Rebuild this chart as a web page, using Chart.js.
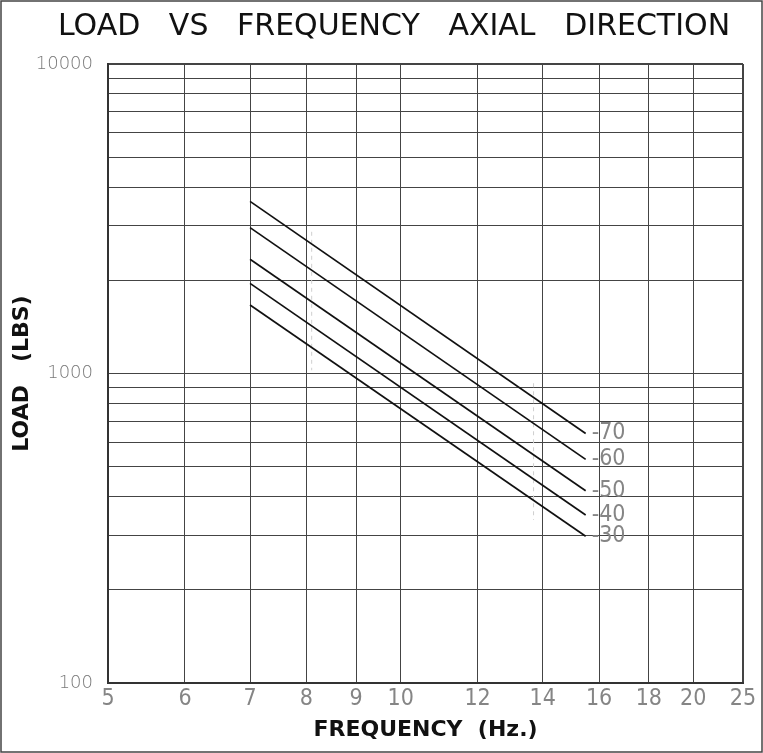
<!DOCTYPE html>
<html>
<head>
<meta charset="utf-8">
<script src="https://cdn.jsdelivr.net/npm/chart.js@4.4.1/dist/chart.umd.min.js"></script>
<style>
  html, body { margin: 0; padding: 0; background: #fff; }
</style>
</head>
<body>
<canvas id="myChart" width="763" height="753"></canvas>
<script>
const ctx = document.getElementById("myChart");

// frequency (Hz) at the two ends of every curve
const freq = [7, 15.5];
// load (lbs) per durometer curve
const seriesNames = ["70", "60", "50", "40", "30"];
const load70 = [3600, 640];
const load60 = [2960, 528];
const load50 = [2340, 418];
const load40 = [1955, 349];
const load30 = [1665, 298];

// faint dashed ghost lines in the scan
const ghost1X = [8.1, 8.1];
const ghost1Y = [2870, 1025];
const ghost2X = [13.7, 13.7];
const ghost2Y = [930, 336];

// x grid / tick labels (the drawing's last line, labelled 25, sits at ~22.5 on its own spacing)
const xTicks = [5, 6, 7, 8, 9, 10, 12, 14, 16, 18, 20, 22.5];
const xTickLabels = ["5", "6", "7", "8", "9", "10", "12", "14", "16", "18", "20", "25"];
const yTicks = [100, 200, 300, 400, 500, 600, 700, 800, 900,
                1000, 2000, 3000, 4000, 5000, 6000, 7000, 8000, 9000, 10000];
const yTickLabels = [100, 1000, 10000];

const loads = [load70, load60, load50, load40, load30];

function pts(xs, ys) {
  return xs.map((x, i) => ({ x: x, y: ys[i] }));
}

let datasets = loads.map((arr, i) => ({
  label: seriesNames[i],
  data: pts(freq, arr),
  borderColor: "#111",
  borderWidth: 1.7,
  pointRadius: 0,
  fill: false
}));
datasets.push({ label: "ghost", data: pts(ghost1X, ghost1Y), borderColor: "#cfcfcf", borderWidth: 1, borderDash: [4, 4], pointRadius: 0 });
datasets.push({ label: "ghost", data: pts(ghost2X, ghost2Y), borderColor: "#cfcfcf", borderWidth: 1, borderDash: [4, 4], pointRadius: 0 });

const decorations = {
  id: "decorations",
  afterDatasetsDraw(chart) {
    const c = chart.ctx;
    c.save();
    c.fillStyle = "#858585";
    c.font = '23px "Liberation Sans Narrow", "DejaVu Sans Condensed", sans-serif';
    c.textBaseline = "middle";
    c.textAlign = "left";
    chart.data.datasets.forEach((ds, i) => {
      if (!seriesNames.includes(ds.label)) return;
      const meta = chart.getDatasetMeta(i);
      const p = meta.data[meta.data.length - 1];
      c.fillText("-" + ds.label, p.x + 6, p.y);
    });
    c.restore();
  },
  afterDraw(chart) {
    const c = chart.ctx;
    c.save();
    c.fillStyle = "#111";
    c.font = '30px "DejaVu Sans", sans-serif';
    c.textAlign = "center";
    c.textBaseline = "alphabetic";
    c.fillText("LOAD   VS   FREQUENCY   AXIAL   DIRECTION", 394, 35);
    c.strokeStyle = "#444";
    c.lineWidth = 1.5;
    c.strokeRect(1, 1, 761, 751);
    c.restore();
  }
};

const chart = new Chart(ctx, {
  type: "line",
  data: { datasets: datasets },
  plugins: [decorations],
  options: {
    responsive: false,
    animation: false,
    layout: { padding: { left: 0, right: 20, top: 64, bottom: 0 } },
    plugins: { legend: { display: false }, tooltip: { enabled: false }, title: { display: false } },
    scales: {
      x: {
        type: "logarithmic",
        min: 5,
        max: 22.5,
        afterBuildTicks: (s) => { s.ticks = xTicks.map(v => ({ value: v })); },
        afterFit: (s) => { s.height = 70; },
        ticks: {
          autoSkip: false,
          maxRotation: 0,
          padding: 2,
          color: "#858585",
          font: { family: '"Liberation Sans Narrow", "DejaVu Sans Condensed", sans-serif', size: 23 },
          callback: function (v) {
            const i = xTicks.indexOf(v);
            return i >= 0 ? xTickLabels[i] : "";
          }
        },
        grid: {
          color: "#444",
          lineWidth: (c) => (c.tick && c.tick.value === 22.5) ? 2 : 1,
          drawTicks: false
        },
        border: { color: "#333", width: 2 },
        title: {
          display: true,
          text: "FREQUENCY  (Hz.)",
          color: "#111",
          font: { family: '"DejaVu Sans", sans-serif', size: 22, weight: "bold" },
          padding: { top: 0, bottom: 10 }
        }
      },
      y: {
        type: "logarithmic",
        min: 100,
        max: 10000,
        afterBuildTicks: (s) => { s.ticks = yTicks.map(v => ({ value: v })); },
        afterFit: (s) => { s.width = 108; },
        ticks: {
          autoSkip: false,
          padding: 15,
          color: "#7a7a7a",
          font: { family: '"DejaVu Sans", sans-serif', size: 18, weight: 200 },
          callback: function (v) {
            return yTickLabels.includes(v) ? String(v) : "";
          }
        },
        grid: {
          color: "#444",
          lineWidth: (c) => (c.tick && c.tick.value === 10000) ? 2 : 1,
          drawTicks: false
        },
        border: { color: "#333", width: 2 },
        title: {
          display: true,
          text: "LOAD   (LBS)",
          color: "#111",
          font: { family: '"DejaVu Sans", sans-serif', size: 22, weight: "bold" },
          padding: { top: 9, bottom: 0 }
        }
      }
    }
  }
});
</script>
</body>
</html>
